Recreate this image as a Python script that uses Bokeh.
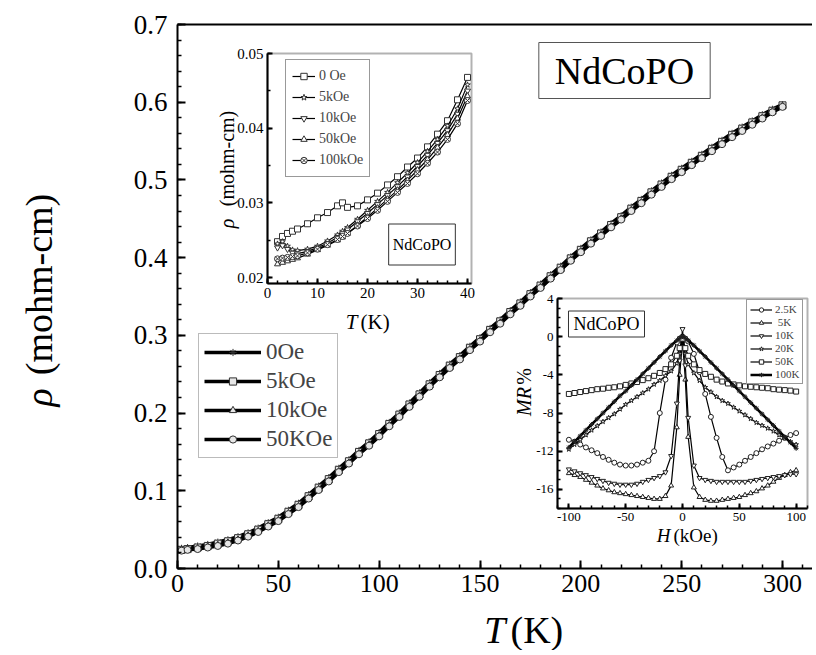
import math
from bokeh.plotting import figure
from bokeh.models import (Range1d, LinearAxis, Legend, LegendItem, Label, BoxAnnotation,
                          SingleIntervalTicker, FixedTicker, PrintfTickFormatter, ColumnDataSource)
from bokeh.embed import file_html
from bokeh.resources import INLINE

# ---------------- data: main panel, rho(T) ----------------
T_main = [2, 5, 10, 15, 20, 25, 30, 35, 40, 45,
          50, 55, 60, 65, 70, 75, 80, 85, 90, 95,
          100, 105, 110, 115, 120, 125, 130, 135, 140, 145,
          150, 155, 160, 165, 170, 175, 180, 185, 190, 195,
          200, 205, 210, 215, 220, 225, 230, 235, 240, 245,
          250, 255, 260, 265, 270, 275, 280, 285, 290, 295,
          300]
rho_0Oe = [0.026, 0.027, 0.029, 0.031, 0.034, 0.037, 0.041, 0.046, 0.052, 0.059,
           0.066, 0.075, 0.084, 0.095, 0.106, 0.117, 0.129, 0.140, 0.152, 0.163,
           0.175, 0.188, 0.200, 0.213, 0.226, 0.239, 0.251, 0.263, 0.274, 0.286,
           0.297, 0.309, 0.320, 0.332, 0.343, 0.355, 0.366, 0.378, 0.389, 0.401,
           0.412, 0.423, 0.433, 0.444, 0.454, 0.465, 0.475, 0.486, 0.496, 0.506,
           0.515, 0.524, 0.533, 0.542, 0.551, 0.560, 0.568, 0.576, 0.584, 0.591,
           0.597]
rho_5kOe = [0.024, 0.025, 0.027, 0.029, 0.032, 0.035, 0.039, 0.044, 0.050, 0.057,
            0.064, 0.073, 0.082, 0.093, 0.104, 0.115, 0.127, 0.138, 0.150, 0.161,
            0.173, 0.186, 0.198, 0.211, 0.224, 0.237, 0.249, 0.261, 0.272, 0.284,
            0.295, 0.307, 0.318, 0.330, 0.341, 0.353, 0.364, 0.376, 0.387, 0.399,
            0.410, 0.421, 0.431, 0.442, 0.452, 0.463, 0.473, 0.484, 0.494, 0.504,
            0.513, 0.522, 0.531, 0.540, 0.549, 0.558, 0.566, 0.574, 0.582, 0.589,
            0.596]
rho_10kOe = [0.023, 0.024, 0.026, 0.028, 0.030, 0.033, 0.037, 0.042, 0.048, 0.055,
             0.062, 0.071, 0.080, 0.091, 0.102, 0.113, 0.125, 0.136, 0.148, 0.159,
             0.171, 0.184, 0.196, 0.209, 0.222, 0.235, 0.247, 0.259, 0.270, 0.282,
             0.293, 0.305, 0.316, 0.328, 0.339, 0.351, 0.362, 0.374, 0.385, 0.397,
             0.408, 0.419, 0.429, 0.440, 0.450, 0.461, 0.471, 0.482, 0.492, 0.502,
             0.511, 0.520, 0.529, 0.538, 0.547, 0.556, 0.564, 0.572, 0.580, 0.588,
             0.595]
rho_50kOe = [0.023, 0.024, 0.025, 0.027, 0.029, 0.032, 0.036, 0.041, 0.047, 0.054,
             0.061, 0.070, 0.079, 0.090, 0.101, 0.112, 0.124, 0.135, 0.147, 0.158,
             0.170, 0.183, 0.195, 0.208, 0.221, 0.234, 0.246, 0.258, 0.269, 0.281,
             0.292, 0.304, 0.315, 0.327, 0.338, 0.350, 0.361, 0.373, 0.384, 0.396,
             0.407, 0.418, 0.428, 0.439, 0.449, 0.460, 0.470, 0.481, 0.491, 0.501,
             0.510, 0.519, 0.528, 0.537, 0.546, 0.555, 0.563, 0.571, 0.579, 0.587,
             0.594]
main_labels = ["0Oe", "5kOe", "10kOe", "50KOe"]
main_markers = ["asterisk", "square", "triangle", "circle"]

# ---------------- data: inset 1, low-T rho(T) ----------------
T_low = [2, 3, 4, 5, 6, 8, 10, 12, 14, 15, 16, 18, 20, 22, 24, 26, 28, 30, 32, 34, 36, 38, 40]
rho_low_0Oe = [0.0248, 0.0255, 0.0259, 0.0262, 0.0265, 0.0272, 0.0280, 0.0287, 0.0296, 0.0300,
               0.0294, 0.0296, 0.0304, 0.0313, 0.0324, 0.0335, 0.0348, 0.0360, 0.0375, 0.0392,
               0.0410, 0.0438, 0.0468]
rho_low_5kOe = [0.0245, 0.0248, 0.0242, 0.0237, 0.0236, 0.0238, 0.0242, 0.0249, 0.0257, 0.0262,
                0.0267, 0.0278, 0.0290, 0.0302, 0.0314, 0.0327, 0.0340, 0.0354, 0.0369, 0.0385,
                0.0403, 0.0426, 0.0458]
rho_low_10kOe = [0.0240, 0.0243, 0.0238, 0.0233, 0.0232, 0.0235, 0.0240, 0.0246, 0.0254, 0.0259,
                 0.0264, 0.0275, 0.0286, 0.0298, 0.0310, 0.0322, 0.0335, 0.0349, 0.0364, 0.0380,
                 0.0397, 0.0419, 0.0450]
rho_low_50kOe = [0.0218, 0.0220, 0.0222, 0.0224, 0.0226, 0.0231, 0.0237, 0.0243, 0.0250, 0.0254,
                 0.0259, 0.0270, 0.0281, 0.0293, 0.0305, 0.0317, 0.0330, 0.0344, 0.0358, 0.0374,
                 0.0391, 0.0413, 0.0443]
rho_low_100kOe = [0.0225, 0.0226, 0.0227, 0.0228, 0.0229, 0.0233, 0.0238, 0.0244, 0.0251, 0.0255,
                  0.0259, 0.0269, 0.0279, 0.0290, 0.0302, 0.0314, 0.0326, 0.0339, 0.0353, 0.0368,
                  0.0385, 0.0406, 0.0437]
low_labels = ["0 Oe", "5kOe", "10kOe", "50kOe", "100kOe"]
low_markers = ["square", "star", "inverted_triangle", "triangle", "circle_x"]

# ---------------- data: inset 2, MR(H) ----------------
H_kOe = [-100, -95, -90, -85, -80, -75, -70, -65, -60, -55,
         -50, -45, -40, -35, -30, -25, -20, -15, -10, -5,
         -2.5, 0, 2.5,
         5, 10, 15, 20, 25, 30, 35, 40, 45, 50,
         55, 60, 65, 70, 75, 80, 85, 90, 95, 100]
mr_2p5K = [-10.8, -11.0, -11.3, -11.6, -11.9, -12.2, -12.6, -12.9, -13.2, -13.4,
           -13.5, -13.5, -13.4, -13.2, -13.0, -12.0, -8.0, -4.5, -2.2, -0.6,
           -0.2, 0.0, -0.2,
           -0.5, -1.8, -3.7, -6.0, -8.4, -10.6, -12.6, -14.0, -13.7, -13.4,
           -13.0, -12.6, -12.2, -11.8, -11.5, -11.2, -10.9, -10.6, -10.3, -10.1]
mr_5K = [-14.3, -14.5, -14.7, -15.0, -15.3, -15.6, -15.9, -16.1, -16.3, -16.4,
         -16.5, -16.6, -16.7, -16.8, -16.9, -17.0, -17.0, -16.7, -15.6, -9.5,
         -4.0, -0.5, -4.5,
         -10.5, -15.8, -16.8, -17.1, -17.2, -17.2, -17.1, -17.0, -16.9, -16.8,
         -16.6, -16.4, -16.2, -15.9, -15.6, -15.2, -14.8, -14.5, -14.2, -14.0]
mr_10K = [-13.9, -14.1, -14.3, -14.5, -14.7, -14.9, -15.1, -15.3, -15.4, -15.5,
          -15.5, -15.5, -15.4, -15.2, -15.0, -14.8, -14.6, -14.2, -12.5, -7.0,
          -2.5, 0.8, -3.0,
          -8.5, -13.5, -14.8, -15.0, -15.1, -15.2, -15.2, -15.2, -15.2, -15.2,
          -15.2, -15.1, -15.0, -14.9, -14.8, -14.7, -14.6, -14.5, -14.4, -14.4]
mr_20K = [-11.8, -11.3, -10.8, -10.3, -9.8, -9.35, -8.9, -8.5, -8.1, -7.6,
          -7.1, -6.7, -6.3, -5.9, -5.5, -5.0, -4.6, -4.1, -3.6, -2.8,
          -1.8, -0.3, -1.8,
          -2.9, -3.8, -4.6, -5.3, -5.8, -6.3, -6.7, -7.0, -7.4, -7.8,
          -8.2, -8.6, -9.0, -9.3, -9.6, -9.9, -10.3, -10.6, -11.0, -11.3]
mr_50K = [-6.0, -5.9, -5.8, -5.7, -5.6, -5.5, -5.45, -5.35, -5.3, -5.2,
          -5.05, -4.9, -4.75, -4.55, -4.35, -4.1, -3.8, -3.4, -2.9, -2.0,
          -1.2, -0.2, -1.2,
          -2.0, -2.9, -3.5, -3.9, -4.2, -4.5, -4.7, -4.9, -5.0, -5.1,
          -5.2, -5.25, -5.3, -5.35, -5.4, -5.5, -5.55, -5.6, -5.65, -5.75]
mr_100K = [-11.6, -11.0, -10.4, -9.8, -9.2, -8.6, -8.0, -7.4, -6.8, -6.2,
           -5.7, -5.1, -4.5, -3.9, -3.3, -2.7, -2.1, -1.5, -0.9, -0.4,
           -0.15, 0.0, -0.15,
           -0.4, -0.9, -1.5, -2.1, -2.7, -3.3, -3.9, -4.5, -5.1, -5.7,
           -6.3, -6.9, -7.5, -8.1, -8.7, -9.3, -9.9, -10.5, -11.1, -11.7]
mr_labels = ["2.5K", " 5K", "10K", "20K", "50K", "100K"]
mr_markers = ["circle", "triangle", "inverted_triangle", "star", "square", "asterisk"]

# ---------------- layout (canvas pixels; frame = whole canvas) ----------------
SERIF = "Liberation Serif"
W, H = 812, 650


def span(d0, d1, p0, p1, f0, f1):
    k = (d1 - d0) / (p1 - p0)
    return Range1d(start=d0 + (f0 - p0) * k, end=d0 + (f1 - p0) * k)


MAIN = dict(dx=(0, 300), dy=(0, 0.7), px=(177, 782), py=(568, 24))
I1 = dict(dx=(0, 40.8), dy=(0.0192, 0.05), px=(267, 471), py=(283, 53))
MRB = dict(dx=(-110, 110), dy=(-18, 4), px=(557, 807), py=(508, 298))

xr = span(*MAIN["dx"], *MAIN["px"], 0, W)
yr = span(*MAIN["dy"], *MAIN["py"], H, 0)
x_right = xr.end

p = figure(frame_width=W, frame_height=H, min_border=0,
           min_border_left=0, min_border_right=0, min_border_top=0, min_border_bottom=0,
           x_range=xr, y_range=yr, output_backend="svg", toolbar_location=None)
p.xgrid.visible = False
p.ygrid.visible = False
p.outline_line_color = None
p.background_fill_color = "white"
p.border_fill_color = "white"

p.extra_x_ranges = {"i1x": span(*I1["dx"], *I1["px"], 0, W),
                    "mrx": span(*MRB["dx"], *MRB["px"], 0, W)}
p.extra_y_ranges = {"i1y": span(*I1["dy"], *I1["py"], H, 0),
                    "mry": span(*MRB["dy"], *MRB["py"], H, 0)}


def rng(name, axis):
    if name == "default":
        return xr if axis == "x" else yr
    return p.extra_x_ranges[name] if axis == "x" else p.extra_y_ranges[name]


def to_data(px, py, xn="default", yn="default"):
    rx, ry = rng(xn, "x"), rng(yn, "y")
    x = rx.start + px * (rx.end - rx.start) / W
    y = ry.start + (H - py) * (ry.end - ry.start) / H
    return x, y


def style_axis(ax, font_px, major=8, minor=4, lw=2):
    ax.axis_line_width = lw
    ax.major_tick_line_width = lw
    ax.minor_tick_line_width = max(1, lw - 0.5)
    ax.major_tick_in = major
    ax.major_tick_out = 0
    ax.minor_tick_in = minor
    ax.minor_tick_out = 0
    ax.major_label_text_font = SERIF
    ax.major_label_text_font_size = f"{font_px}px"
    ax.major_label_text_color = "black"
    ax.axis_line_color = "black"
    ax.major_tick_line_color = "black"
    ax.minor_tick_line_color = "black"


# main axes (fixed at the data origin, so the frame can fill the canvas)
xa = p.xaxis[0]
xa.fixed_location = 0
xa.bounds = (0, x_right)
xa.ticker = SingleIntervalTicker(interval=50, num_minor_ticks=5)
style_axis(xa, 26)
xa.major_label_standoff = 6
ya = p.yaxis[0]
ya.fixed_location = 0
ya.bounds = (0, 0.7005)
ya.ticker = SingleIntervalTicker(interval=0.1, num_minor_ticks=5)
ya.formatter = PrintfTickFormatter(format="%.1f")
style_axis(ya, 27)
ya.major_label_standoff = 10

top = LinearAxis(fixed_location=0.7, bounds=(0, x_right), ticker=FixedTicker(ticks=[]),
                 axis_line_width=2, axis_line_color="black")
p.add_layout(top, "above")


def txt(px, py, s, size, xn="default", yn="default", italic=False, angle=0.0,
        align="center", **kw):
    x, y = to_data(px, py, xn, yn)
    lab = Label(x=x, y=y, x_range_name=xn, y_range_name=yn, text=s,
                text_font=SERIF, text_font_size=f"{size}px",
                text_font_style="italic" if italic else "normal",
                text_color="black", text_align=align, text_baseline="middle",
                angle=angle, **kw)
    p.add_layout(lab)
    return lab


# main axis titles
txt(505, 629, "T", 38, italic=True, align="right")
txt(510, 629, "(K)", 38, align="left")
txt(38, 397, "\u03c1", 38, italic=True, angle=math.pi / 2)
txt(38, 284, "(mohm-cm)", 38, angle=math.pi / 2)

# main curves
items = []
for vals, mk, lab in zip([rho_0Oe, rho_5kOe, rho_10kOe, rho_50kOe], main_markers, main_labels):
    src = ColumnDataSource(dict(T=T_main, rho=vals))
    ln = p.line("T", "rho", source=src, line_color="black", line_width=3.5)
    sc = p.scatter("T", "rho", source=src, marker=mk, size=7, fill_color="#e6e6e6",
                   line_color="#303030", line_width=1)
    items.append(LegendItem(label=lab, renderers=[ln, sc]))
leg = Legend(items=items, location=(198, H - 458), margin=0, padding=5,
             spacing=3, glyph_width=57, glyph_height=18, label_height=26,
             label_standoff=5, label_text_font=SERIF, label_text_font_size="23px",
             border_line_color="#777777", border_line_width=1,
             background_fill_color="white", background_fill_alpha=1)
p.add_layout(leg)

txt(624, 70, "NdCoPO", 38, border_line_color="#555555", border_line_width=1,
    background_fill_color="white",
    padding=dict(left=16, right=16, top=7, bottom=7))

# ---------------- inset 1 ----------------
p.add_layout(BoxAnnotation(left=I1["dx"][0], right=I1["dx"][1], bottom=I1["dy"][0], top=I1["dy"][1],
                           x_range_name="i1x", y_range_name="i1y", fill_color="white", fill_alpha=1,
                           line_color="black", line_width=2, level="underlay"))
b1 = LinearAxis(x_range_name="i1x", y_range_name="i1y", fixed_location=I1["dy"][0],
                bounds=I1["dx"], ticker=SingleIntervalTicker(interval=10, num_minor_ticks=5))
style_axis(b1, 15, major=5, minor=3, lw=2)
b1.major_label_standoff = 4
p.add_layout(b1, "below")
l1 = LinearAxis(x_range_name="i1x", y_range_name="i1y", fixed_location=I1["dx"][0],
                bounds=I1["dy"], ticker=SingleIntervalTicker(interval=0.01, num_minor_ticks=2),
                formatter=PrintfTickFormatter(format="%.2f"))
style_axis(l1, 15, major=5, minor=3, lw=2)
l1.major_label_standoff = 4
p.add_layout(l1, "left")

items1 = []
for vals, mk, lab in zip([rho_low_0Oe, rho_low_5kOe, rho_low_10kOe, rho_low_50kOe, rho_low_100kOe],
                         low_markers, low_labels):
    src = ColumnDataSource(dict(T=T_low, rho=vals))
    ln = p.line("T", "rho", source=src, x_range_name="i1x", y_range_name="i1y",
                line_color="black", line_width=1.2)
    sc = p.scatter("T", "rho", source=src, x_range_name="i1x", y_range_name="i1y", marker=mk,
                   size=6, fill_color="white", line_color="#333333", line_width=1)
    items1.append(LegendItem(label=lab, renderers=[ln, sc]))
leg1 = Legend(items=items1, location=(285, H - 177), margin=0, padding=6,
              spacing=1, glyph_width=23, glyph_height=16, label_height=20,
              label_standoff=4, label_text_font=SERIF, label_text_font_size="14px",
              border_line_color="#333333", border_line_width=1,
              background_fill_color="white", background_fill_alpha=1)
p.add_layout(leg1)

txt(421.5, 244, "NdCoPO", 16, "i1x", "i1y", border_line_color="#333333", border_line_width=1,
    background_fill_color="white", padding=dict(left=4, right=4, top=12, bottom=12))
txt(357, 321, "T", 21, "i1x", "i1y", italic=True, align="right")
txt(360, 321, "(K)", 21, "i1x", "i1y", align="left")
txt(226, 223, "\u03c1", 20, "i1x", "i1y", italic=True, angle=math.pi / 2)
txt(226, 158, "(mohm-cm)", 20, "i1x", "i1y", angle=math.pi / 2)

# ---------------- inset 2 (MR) ----------------
p.add_layout(BoxAnnotation(left=MRB["dx"][0], right=MRB["dx"][1], bottom=MRB["dy"][0], top=MRB["dy"][1],
                           x_range_name="mrx", y_range_name="mry", fill_color="white", fill_alpha=1,
                           line_color="black", line_width=2, level="underlay"))
b2 = LinearAxis(x_range_name="mrx", y_range_name="mry", fixed_location=MRB["dy"][0],
                bounds=MRB["dx"], ticker=SingleIntervalTicker(interval=50, num_minor_ticks=5),
                formatter=PrintfTickFormatter(format="%d"))
style_axis(b2, 13, major=5, minor=3, lw=2)
b2.major_label_standoff = 4
p.add_layout(b2, "below")
l2 = LinearAxis(x_range_name="mrx", y_range_name="mry", fixed_location=MRB["dx"][0],
                bounds=MRB["dy"], ticker=SingleIntervalTicker(interval=4, num_minor_ticks=4),
                formatter=PrintfTickFormatter(format="%d"))
style_axis(l2, 13, major=5, minor=3, lw=2)
l2.major_label_standoff = 4
p.add_layout(l2, "left")

items2 = []
for vals, mk, lab in zip([mr_2p5K, mr_5K, mr_10K, mr_20K, mr_50K, mr_100K], mr_markers, mr_labels):
    src = ColumnDataSource(dict(H=H_kOe, mr=vals))
    thick = lab.strip() == "100K"
    ln = p.line("H", "mr", source=src, x_range_name="mrx", y_range_name="mry",
                line_color="black", line_width=2.5 if thick else 1.2)
    sc = p.scatter("H", "mr", source=src, x_range_name="mrx", y_range_name="mry", marker=mk,
                   size=5, fill_color="white", line_color="#222222", line_width=1)
    items2.append(LegendItem(label=lab, renderers=[ln, sc]))
leg2 = Legend(items=items2, location=(746, H - 384), margin=0, padding=3,
              spacing=1, glyph_width=22, glyph_height=11, label_height=12,
              label_standoff=3, label_text_font=SERIF, label_text_font_size="11px",
              border_line_color="#333333", border_line_width=1,
              background_fill_color="white", background_fill_alpha=1)
p.add_layout(leg2)

txt(606, 323.5, "NdCoPO", 18, "mrx", "mry", border_line_color="#333333", border_line_width=1,
    background_fill_color="white", padding=dict(left=5, right=5, top=3, bottom=3))
txt(670, 535, "H", 19, "mrx", "mry", italic=True, align="right")
txt(673, 535, "(kOe)", 19, "mrx", "mry", align="left")
txt(523, 401, "MR", 20, "mrx", "mry", italic=True, angle=math.pi / 2)
txt(523, 376, "%", 20, "mrx", "mry", angle=math.pi / 2)

open("out.html", "w").write(file_html(p, INLINE))
